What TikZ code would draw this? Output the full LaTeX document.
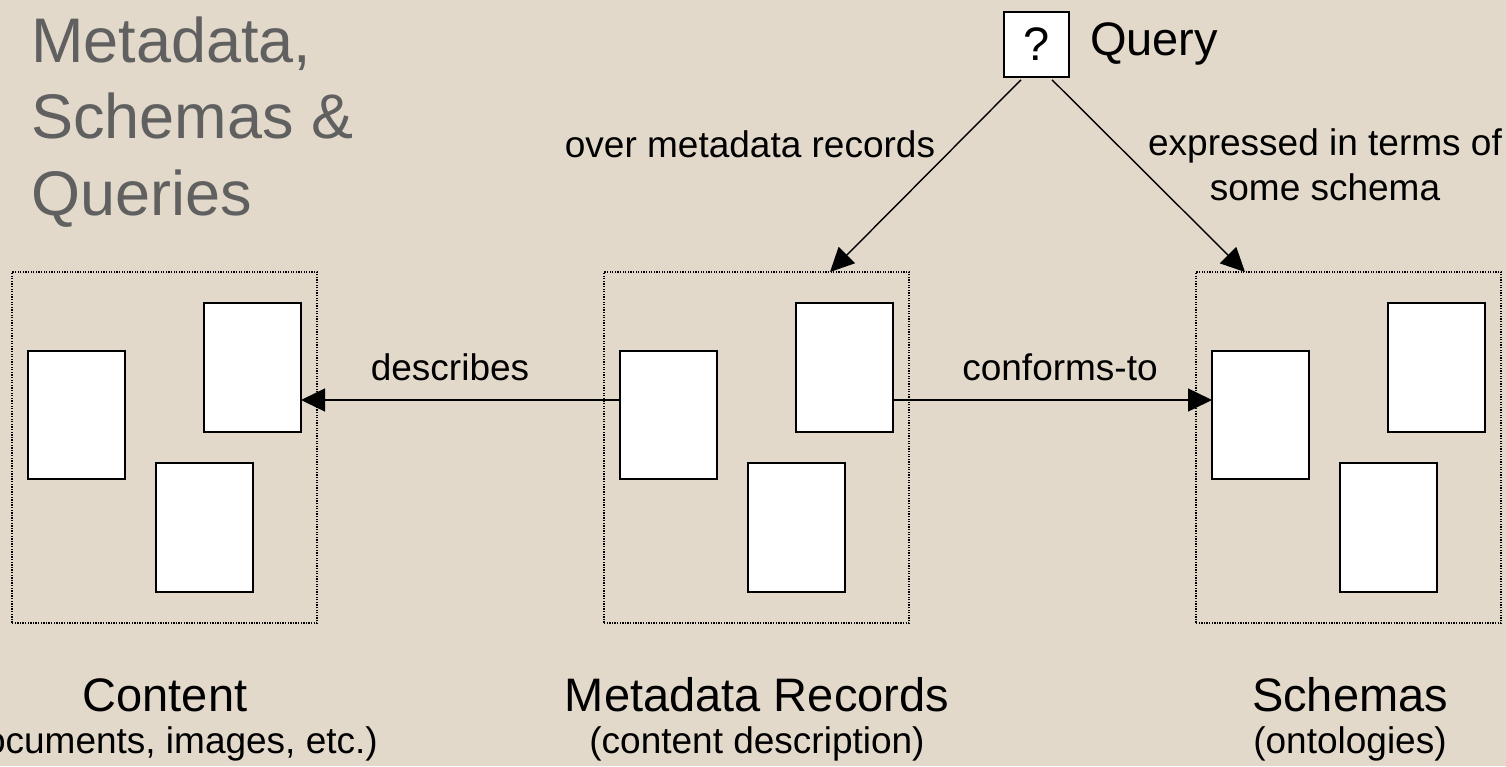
\documentclass[tikz,border=0pt]{standalone}
\usepackage{fontspec}
\setmainfont{Liberation Sans}
\usetikzlibrary{arrows.meta,calc}
\definecolor{bgbeige}{RGB}{226,217,202}
\definecolor{titlegray}{RGB}{96,96,96}
\tikzset{
  txt/.style={inner sep=0pt, outer sep=0pt, anchor=base},
  lbl/.style={txt, font=\fontsize{37}{44}\selectfont},
  big/.style={txt, font=\fontsize{47}{56}\selectfont},
  ttl/.style={txt, anchor=base west, text=titlegray, font=\fontsize{63}{76}\selectfont},
  group/.style={draw, line width=1.3pt, dash pattern=on 1.3pt off 1.3pt, inner sep=0pt, outer sep=0pt},
  doc/.style={draw, fill=white, line width=1.6pt, inner sep=0pt, outer sep=0pt},
  conn/.style={line width=1.4pt, -{Triangle[length=24pt,width=23pt]}},
}
\begin{document}
\begin{tikzpicture}[x=1pt,y=-1pt]
\fill[bgbeige] (0,0) rectangle (1506,766);
\useasboundingbox (0,0) rectangle (1506,766);

% title
\node[ttl] (t1) at (31,62) {Metadata,};
\node[ttl] (t2) at (31,138) {Schemas \&};
\node[ttl] (t3) at (31,215) {Queries};

% group boxes
\coordinate (cA) at (12,272);
\coordinate (mA) at (604,272);
\coordinate (sA) at (1196,272);
\node[group, minimum width=305pt, minimum height=351pt, anchor=north west] (cbox) at (cA) {};
\node[group, minimum width=305pt, minimum height=351pt, anchor=north west] (mbox) at (mA) {};
\node[group, minimum width=305pt, minimum height=351pt, anchor=north west] (sbox) at (sA) {};

% documents
\foreach \b/\x in {c/12, m/604, s/1196}{
  \node[doc, minimum width=97pt, minimum height=128pt, anchor=north west] (\b1) at (\x+16,351) {};
  \node[doc, minimum width=97pt, minimum height=129pt, anchor=north west] (\b2) at (\x+192,303) {};
  \node[doc, minimum width=97pt, minimum height=129pt, anchor=north west] (\b3) at (\x+144,463) {};
}

% query box
\node[draw, fill=white, line width=1.6pt, minimum width=65pt, minimum height=65pt, inner sep=0pt,
      font=\fontsize{47}{56}\selectfont] (q) at (1036.5,44.5) {?};
\node[big, anchor=base west] (qlabel) at (1090,55) {Query};

% horizontal connectors
\coordinate (ay) at (0,400);
\draw[conn] (m1.west |- ay) -- (c2.east |- ay);
\draw[conn] (m2.east |- ay) -- (s1.west |- ay);
\node[lbl] (ldesc) at (450,380) {describes};
\node[lbl] (lconf) at (1060,380) {conforms-to};

% query connectors
\draw[conn] ($(q.south)+(-15.5,2)$) -- ($(mbox.north west)+(226,0)$);
\draw[conn] ($(q.south)+(15.5,2)$) -- ($(sbox.north west)+(49,0)$);
\node[lbl] (lover) at (750,157) {over metadata records};
\node[lbl] (lexp1) at (1325,155) {expressed in terms of};
\node[lbl] (lexp2) at (1325,200) {some schema};

% bottom captions
\node[big] (cap1) at (165,711) {Content};
\node[lbl] (sub1) at (165,753) {(documents, images, etc.)};
\node[big] (cap2) at (757,711) {Metadata Records};
\node[lbl] (sub2) at (757,753) {(content description)};
\node[big] (cap3) at (1350,711) {Schemas};
\node[lbl] (sub3) at (1350,753) {(ontologies)};
\end{tikzpicture}
\end{document}
